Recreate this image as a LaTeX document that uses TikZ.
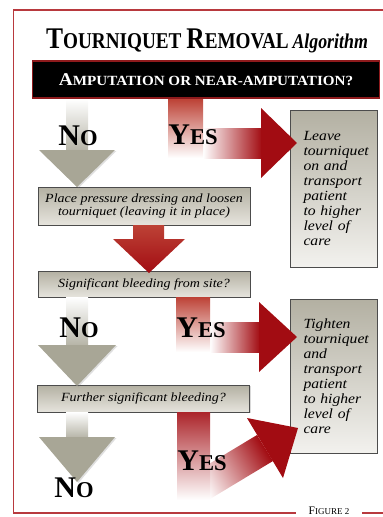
\documentclass[tikz,border=0pt]{standalone}
\usepackage{fontspec}
\setmainfont{Liberation Serif}
\newfontfamily\titlefont[FakeStretch=0.85]{Liberation Serif}
\newfontfamily\bannerfont[FakeStretch=1.08]{Liberation Serif}
\newfontfamily\boxfont[FakeStretch=1.12]{Liberation Serif}
\usetikzlibrary{positioning,shadows}

\definecolor{framered}{HTML}{B8393E}
\definecolor{bannerred}{HTML}{8E1A1C}
\definecolor{arrowred}{HTML}{A20C12}
\definecolor{softred}{HTML}{BD4236}
\definecolor{arrowgray}{HTML}{A8A696}
\definecolor{boxtop}{HTML}{B3B0A2}
\definecolor{boxbottom}{HTML}{E6E4DD}

% fake small caps: big first letter, smaller capitals after it
\newcommand{\fakesc}[4]{{\fontsize{#1}{#1}\selectfont #3}{\fontsize{#2}{#2}\selectfont #4}}

\begin{document}
\begin{tikzpicture}[
        x=1pt, y=-1pt,
        banner/.style={
            rectangle, draw=bannerred, line width=1.6pt, fill=black,
            minimum width=347pt, minimum height=37pt, inner sep=0pt,
            text=white, font=\bannerfont\bfseries
        },
        action/.style={
            rectangle, draw=black!70, line width=0.5pt,
            top color=boxtop, bottom color=boxbottom,
            minimum width=212pt, inner sep=0pt, align=center,
            font=\boxfont\itshape\fontsize{12.5}{13.5}\selectfont,
            drop shadow={shadow xshift=1.2pt, shadow yshift=-1.2pt, opacity=0.3}
        },
        outcome/.style={
            rectangle, draw=black!70, line width=0.5pt,
            top color=boxtop, bottom color=boxbottom!50!white,
            minimum width=87pt, inner sep=0pt,
            text width=60pt, align=left,
            font=\boxfont\itshape\fontsize{14}{15}\selectfont,
            drop shadow={shadow xshift=1.2pt, shadow yshift=-1.2pt, opacity=0.3}
        },
        answer/.style={anchor=base, inner sep=0pt, font=\bfseries},
        noshaft/.style={top color=white, bottom color=arrowgray!85},
        nohead/.style={fill=arrowgray, drop shadow={shadow xshift=1.5pt, shadow yshift=-1pt, opacity=0.25}},
        yesshaft/.style={top color=softred, bottom color=white},
        yesband/.style={left color=white, right color=arrowred},
        yeshead/.style={fill=arrowred}
    ]
    \useasboundingbox (0,0) rectangle (383,517);

    % Frame
    \draw[framered, line width=1.3pt] (390,10) -- (13.5,10) -- (13.5,513) -- (296,513);
    \draw[framered, line width=1.3pt] (362,513) -- (390,513);
    \node[anchor=base, inner sep=0pt] (fig) at (329,514) {\fakesc{11.5}{9}{F}{IGURE 2}};

    % Title and first question
    \node[anchor=base, inner sep=0pt, font=\titlefont\bfseries\fontsize{22.6}{24}\selectfont] (title) at (207,48)
        {\fakesc{30}{22.6}{T}{OURNIQUET} \fakesc{30}{22.6}{R}{EMOVAL}\,{\itshape\fontsize{21}{21}\selectfont Algorithm}};
    \node[banner] (q0) at (206,79.5) {\fakesc{18}{14}{A}{MPUTATION OR NEAR-AMPUTATION?}};

    % Boxes
    \node[action, minimum height=38pt] (b1) at (144,206) {Place pressure dressing and loosen\\tourniquet (leaving it in place)};
    \node[action, minimum height=26pt] (b2) at (144,284) {Significant bleeding from site?};
    \node[action, minimum height=27pt] (b3) at (143.5,398.5) {Further significant bleeding?};
    \node[outcome, minimum height=157pt] (r1) at (333.5,188.5) {Leave\\tourniquet\\on and\\transport\\patient\\to higher\\level of\\care};
    \node[outcome, minimum height=154pt] (r2) at (333.5,376) {Tighten\\tourniquet\\and\\transport\\patient\\to higher\\level of\\care};

    % No arrows
    \shade[noshaft] (66,99) rectangle (88,151);
    \fill[nohead] (39,150) -- (115,150) -- (77,187) -- cycle;
    \shade[noshaft] (66,297) rectangle (88,346);
    \fill[nohead] (38,345) -- (116,345) -- (77,386) -- cycle;
    \shade[noshaft] (66,412) rectangle (88,438);
    \fill[nohead] (39,437) -- (115,437) -- (77,482) -- cycle;

    % Yes arrows
    \shade[yesband] (203,128) rectangle (262,158);
    \shade[yesshaft] (168,99) rectangle (203,158);
    \fill[yeshead] (261,108) -- (297,143) -- (261,178) -- cycle;

    \shade[yesband] (210,322) rectangle (260,352);
    \shade[yesshaft] (176,297) rectangle (210,352);
    \fill[yeshead] (259,302) -- (297,337) -- (259,372) -- cycle;

    \shade[yesband, shading angle=121] (194,473) -- (257,435) -- (273,461) -- (210,499) -- cycle;
    \shade[yesshaft, top color=arrowred!90] (177,412) rectangle (210,500);
    \fill[yeshead] (247,418) -- (298,428) -- (283,478) -- cycle;

    % b1 -> b2
    \shade[top color=softred, bottom color=arrowred] (133,225) -- (164,225) -- (164,239) -- (185,239)
        -- (149,273) -- (113,239) -- (133,239) -- cycle;

    % Answers
    \node[answer] (no1) at (78,145) {\fakesc{30}{22.6}{N}{O}};
    \node[answer] (yes1) at (193,144) {\fakesc{30}{22.6}{Y}{ES}};
    \node[answer] (no2) at (79,337) {\fakesc{30}{22.6}{N}{O}};
    \node[answer] (yes2) at (201,337) {\fakesc{30}{22.6}{Y}{ES}};
    \node[answer] (yes3) at (202,470) {\fakesc{30}{22.6}{Y}{ES}};
    \node[answer] (no3) at (74,497) {\fakesc{30}{22.6}{N}{O}};
\end{tikzpicture}
\end{document}
